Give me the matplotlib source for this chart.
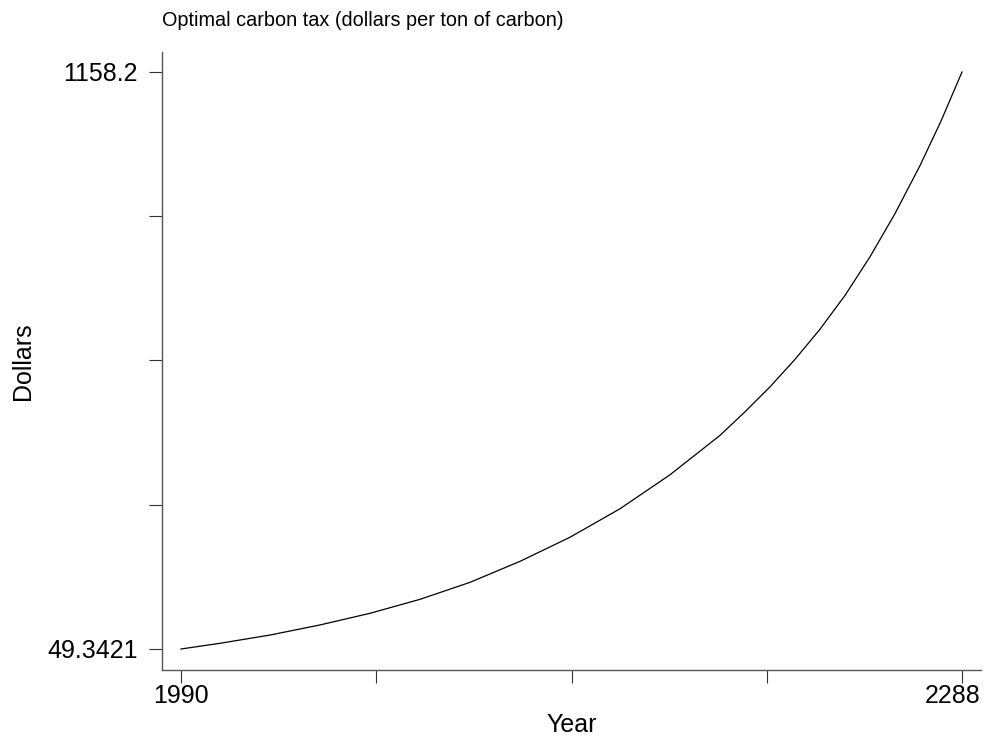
import matplotlib
matplotlib.use("Agg")
import matplotlib.pyplot as plt
from matplotlib.transforms import ScaledTranslation
import numpy as np

# values
years = [1990, 2004.9, 2024.0, 2043.0, 2062.1, 2081.2, 2100.3, 2119.4, 2138.4,
         2157.5, 2176.6, 2195.7, 2205.2, 2214.7, 2224.3, 2233.8, 2243.4,
         2252.9, 2262.4, 2272.0, 2280.0, 2288]
tax = [49.3421, 60.3, 76.2, 95.5, 117.9, 144.8, 177.5, 217.9, 264.0,
       318.8, 384.2, 460.0, 505.2, 552.9, 606.1, 663.8, 729.1,
       803.1, 885.7, 978.5, 1064.0, 1158.2]

y_min, y_max = 49.3421, 1158.2
x_min, x_max = 1990, 2288

plt.rcParams['font.family'] = ['Liberation Sans', 'DejaVu Sans']

fig = plt.figure(figsize=(9.87, 7.36), dpi=100)
ax = fig.add_axes([162/987, 1 - 670/736, (981 - 162)/987, (670 - 52)/736])

ax.plot(years, tax, color='black', lw=0.9)

ax.set_xlim(1982.75, 2295.25)
ax.set_ylim(8.98, 1196.6)

ax.spines['top'].set_visible(False)
ax.spines['right'].set_visible(False)
for s in ('left', 'bottom'):
    ax.spines[s].set_color('#555555')
    ax.spines[s].set_linewidth(1.0)

xt = np.linspace(x_min, x_max, 5)
yt = np.linspace(y_min, y_max, 5)
ax.set_xticks(xt)
ax.set_xticklabels(['1990', '', '', '', '2288'])
ax.set_yticks(yt)
ax.set_yticklabels(['49.3421', '', '', '', '1158.2'])
ax.tick_params(axis='both', direction='out', length=9.4, width=0.8,
               color='#333333', labelsize=18)
ax.tick_params(axis='y', pad=8)
ax.tick_params(axis='x', pad=1)

# last x label is pulled in so it stays inside the graph
lbl = ax.get_xticklabels()[-1]
lbl.set_transform(lbl.get_transform() + ScaledTranslation(-9/100, 0, fig.dpi_scale_trans))

ax.set_xlabel('Year', fontsize=18, labelpad=3)
ax.set_ylabel('Dollars', fontsize=18, labelpad=9)
ax.set_title('Optimal carbon tax (dollars per ton of carbon)', loc='left',
             fontsize=14.3, pad=19)

fig.savefig('out.png', dpi=100)
